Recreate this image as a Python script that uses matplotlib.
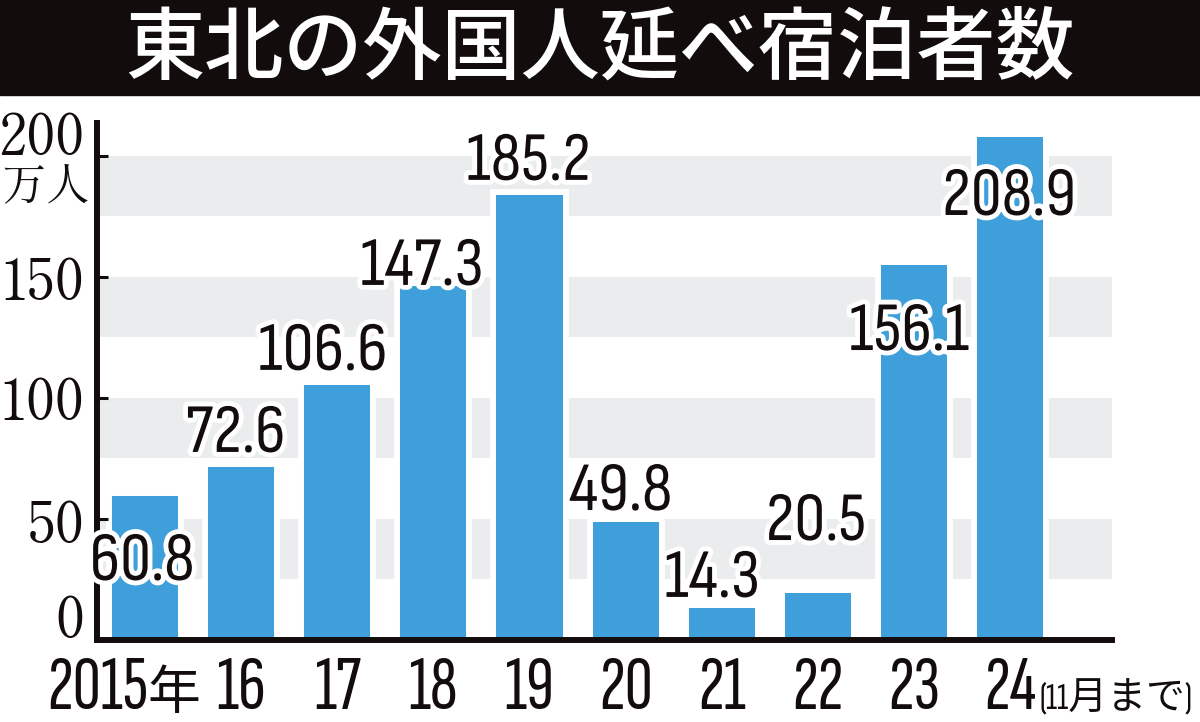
import matplotlib
matplotlib.use('Agg')
import matplotlib.pyplot as plt
import matplotlib.patheffects as pe
from matplotlib.patches import Rectangle
from matplotlib.transforms import ScaledTranslation

# data (万人)
years = ['2015', '16', '17', '18', '19', '20', '21', '22', '23', '24']
visitors = [60.8, 72.6, 106.6, 147.3, 185.2, 49.8, 14.3, 20.5, 156.1, 208.9]
value_labels = ['60.8', '72.6', '106.6', '147.3', '185.2', '49.8', '14.3', '20.5', '156.1', '208.9']
yticks = [0, 50, 100, 150, 200]
title = '東北の外国人延べ宿泊者数'

# where each value label sits (baseline, data units) and its small x shift
label_base = [24.8, 77.7, 111.6, 146.7, 190.1, 53.7, 17.8, 41.3, 119.8, 175.6]
label_dx = [-0.03, -0.06, -0.15, -0.12, -0.01, -0.05, -0.10, -0.02, -0.05, -0.01]
# vertical shift of y tick labels, in points (positive = up)
ytick_dy = [1.4, -17.3, -15.8, -16.6, 0.7]

BLUE = '#3f9fda'
BAND = '#ebeced'
INK = '#120d0c'
VAL_FONT = ['Sofia Sans Condensed', 'Roboto Condensed', 'DejaVu Sans']
XLAB_FONT = ['Sofia Sans Extra Condensed', 'Roboto Condensed', 'Noto Sans CJK JP', 'DejaVu Sans']
SERIF = ['Shippori Mincho', 'Liberation Serif', 'Noto Sans CJK JP']

fig = plt.figure(figsize=(12, 7.22), dpi=100)
ax = fig.add_axes([96.5 / 1200, 1 - 640 / 722, (1112 - 96.5) / 1200, (640 - 123) / 722])

# title bar
fig.patches.append(Rectangle((0, 1 - 95 / 722), 1, 95 / 722, transform=fig.transFigure,
                             color=INK, zorder=0))
fig.text(0.5, 1 - 50 / 722, title, ha='center', va='center', color='white',
         fontsize=57, family=['Noto Sans CJK JP'], weight='medium')

# alternating grey bands
for lo in range(25, 200, 50):
    ax.axhspan(lo, lo + 25, color=BAND, lw=0, zorder=0)

x = list(range(len(years)))
ax.bar(x, visitors, width=0.75, color=BLUE, edgecolor='white', linewidth=4.3, zorder=1)

stroke = [pe.withStroke(linewidth=7, foreground='white')]
for i, txt in enumerate(value_labels):
    ax.text(i + label_dx[i], label_base[i], txt, ha='center', va='baseline',
            fontsize=50, family=VAL_FONT, weight='bold', color=INK,
            path_effects=stroke, zorder=4)

ax.set_xlim(-0.505, 10.06)
ax.set_ylim(0, 213.6)

for s in ['top', 'right']:
    ax.spines[s].set_visible(False)
for s in ['left', 'bottom']:
    ax.spines[s].set_linewidth(4.3)
    ax.spines[s].set_color(INK)
    ax.spines[s].set_zorder(3)

ax.set_yticks(yticks)
ax.set_yticklabels([])
ax.tick_params(axis='y', direction='in', length=8, width=2.2, color=INK)
ax.set_xticks([])

# y tick labels (serif) drawn by hand so each can be nudged
for t, dy in zip(yticks, ytick_dy):
    tr = ax.get_yaxis_transform() + ScaledTranslation(0, dy / 72, fig.dpi_scale_trans)
    ax.text(-0.012, t, str(t), transform=tr, ha='right', va='baseline',
            fontsize=40, family=SERIF, color=INK, clip_on=False)
fig.text(46 / 1200, 1 - 188 / 722, '万人', ha='center', va='center',
         fontsize=32, family=SERIF, color=INK)

# x labels
xbase = -28.5
for i, yr in enumerate(years):
    if i == 0:
        ax.text(0.03, xbase, yr, ha='right', va='baseline', fontsize=56,
                family=XLAB_FONT, color=INK, clip_on=False)
        ax.text(0.03, xbase, '年', ha='left', va='baseline', fontsize=38,
                family=['Noto Sans CJK JP'], color=INK, clip_on=False)
    else:
        ax.text(i, xbase, yr, ha='center', va='baseline', fontsize=56,
                family=XLAB_FONT, color=INK, clip_on=False)
ax.text(9.31, xbase, '(11月まで)', ha='left', va='baseline', fontsize=28,
        family=XLAB_FONT, color=INK, clip_on=False)

fig.savefig('out.png', dpi=100)
